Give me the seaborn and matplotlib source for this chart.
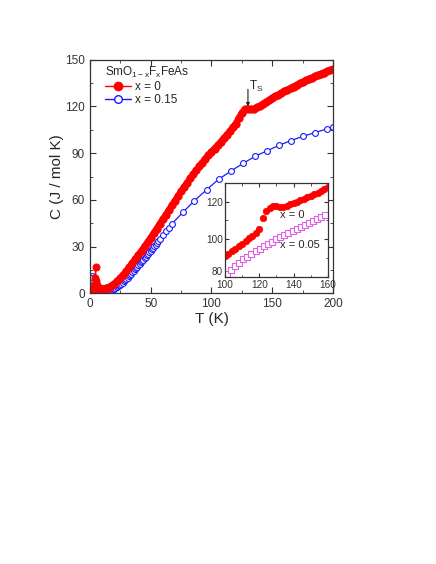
import numpy as np
import pandas as pd
import matplotlib
matplotlib.use("Agg")
import matplotlib.pyplot as plt
import seaborn as sns
from matplotlib.lines import Line2D

# ---------------- data ----------------
# x = 0, main panel
T_x0 = [1.5, 2, 2.5, 3, 3.5, 4, 4.5, 4.7, 5, 5.5, 6, 7, 8, 9, 10, 11, 12, 13, 14,
        15, 17.5, 20, 22.5, 25, 27.5, 30, 32.5, 35, 37.5, 40, 42.5, 45, 47.5, 50,
        52.5, 55, 57.5, 60, 62.5, 65, 67.5, 70, 72.5, 75, 77.5, 80, 82.5, 85, 87.5,
        90, 92.5, 95, 97.5, 100, 102.5, 105, 107.5, 110, 112.5, 115, 117.5, 120,
        122.5, 125, 127.5, 130, 132.5, 135, 137.5, 140, 142.5, 145, 147.5, 150,
        152.5, 155, 157.5, 160, 162.5, 165, 167.5, 170, 172.5, 175, 177.5, 180,
        182.5, 185, 187.5, 190, 192.5, 195, 197.5, 200]
C_x0 = [0.5, 1, 2, 3, 4, 6, 10, 17, 8, 5, 4.2, 3.6, 3.2, 2.9, 2.8, 2.8, 2.9, 3.1, 3.3,
        3.6, 4.8, 6.2, 7.8, 9.8, 12, 14.3, 16.8, 19.4, 22, 24.7, 27.4, 30.1, 32.9, 35.7,
        38.6, 41.6, 44.6, 47.6, 50.5, 53.5, 56.5, 59.5, 62.5, 65.5, 68.3, 71, 73.8, 76.5, 79,
        81.5, 84, 86.5, 88.8, 91, 93, 95, 97.2, 99.5, 101.8, 104, 106.5, 109,
        112.5, 116, 118.2, 118.5, 118.2, 118.5, 119.5, 120.6, 121.8, 123, 124.2, 125.4,
        126.5, 127.6, 128.7, 129.8, 130.8, 131.8, 132.8, 133.8, 134.8, 135.8, 136.7, 137.6,
        138.5, 139.4, 140.2, 141, 141.8, 142.6, 143.3, 144]

# x = 0.15, main panel
T_x15 = [1.5, 2, 2.5, 3, 3.5, 4, 5, 6, 7, 8, 9, 10, 11, 12, 13, 14, 15, 16, 17, 18, 19,
         20, 21, 22, 23, 24, 25, 26, 27, 28, 29, 30, 31, 32, 33, 34, 35, 36, 37, 38, 39,
         40, 41, 42, 43, 44, 45, 46, 47, 48, 49, 50, 51, 52, 53, 54, 55, 56,
         57.5, 60, 62.5, 64.8, 67.2, 76.5, 86, 96, 106, 116, 126, 136, 145.5,
         155.5, 165, 175, 185, 195, 200]
C_x15 = [11, 10, 7.5, 5.5, 4, 3, 2, 1.5, 1.2, 1.0, 0.9, 0.9, 0.95, 1.0, 1.15, 1.3, 1.5,
         1.7, 2.0, 2.3, 2.6, 3.0, 3.4, 3.9, 4.4, 5.0, 5.6, 6.2, 6.9, 7.6, 8.4, 9.2, 10.0,
         10.9, 11.7, 12.6, 13.5, 14.4, 15.3, 16.2, 17.1, 18.0, 18.9, 19.8, 20.7, 21.6,
         22.5, 23.5, 24.4, 25.4, 26.3, 27.3, 28.3, 29.3, 30.3, 31.3, 32.3, 33.3,
         34.8, 37.3, 39.8, 42.0, 44.4, 52.0, 59.5, 66.5, 73.3, 78.5, 83.5, 88.0, 91.5,
         95.0, 98.0, 100.8, 103.2, 105.6, 106.7]

# inset, x = 0
T_in0 = [100, 102, 104, 106, 108, 110, 112, 114, 116, 118, 120, 122, 124, 126, 128,
         130, 132, 134, 136, 138, 140, 142, 144, 146, 148, 150, 152, 154, 156, 158, 160]
C_in0 = [91, 92.3, 93.6, 94.8, 96.2, 97.6, 99, 100.5, 101.8, 103.3, 105.5, 111.5, 115,
         116.8, 117.5, 117.6, 117.3, 117.2, 117.8, 118.5, 119.2, 119.9, 120.6, 121.4,
         122.2, 123, 123.9, 124.8, 125.7, 126.7, 127.8]

# inset, x = 0.05
T_in05 = [101, 103.4, 105.8, 108.2, 110.6, 113, 115.4, 117.8, 120.2, 122.6, 125, 127.4,
          129.8, 132.2, 134.6, 137, 139.4, 141.8, 144.2, 146.6, 149, 151.4, 153.8,
          156.2, 158.6]
C_in05 = [81.5, 83.8, 85.8, 87.6, 89.3, 90.8, 92.3, 93.7, 95, 96.3, 97.5, 98.7, 99.9,
          101, 102.1, 103.2, 104.3, 105.4, 106.5, 107.6, 108.7, 109.8, 110.9, 112, 113.1]

main_xticks = [0, 50, 100, 150, 200]
main_yticks = [0, 30, 60, 90, 120, 150]
inset_xticks = [100, 120, 140, 160]
inset_yticks = [80, 100, 120]

# ---------------- style ----------------
sns.set_style("ticks")
plt.rcParams["font.family"] = ["Liberation Sans", "DejaVu Sans"]
plt.rcParams["mathtext.fontset"] = "custom"
plt.rcParams["mathtext.rm"] = "Liberation Sans"
plt.rcParams["mathtext.it"] = "Liberation Sans:italic"
plt.rcParams["axes.edgecolor"] = "#333333"
plt.rcParams["axes.linewidth"] = 0.9
plt.rcParams["xtick.color"] = "#333333"
plt.rcParams["ytick.color"] = "#333333"

RED = "#ff0000"
BLUE = "#1a1aff"
PINK = "#e060e8"

fig = plt.figure(figsize=(4.36, 5.64), dpi=100)
ax = fig.add_axes([0.206, 0.480, 0.558, 0.414])

df0 = pd.DataFrame({"T": T_x0, "C": C_x0})
df15 = pd.DataFrame({"T": T_x15, "C": C_x15})
low0 = df0[df0["T"] <= 10]
high0 = df0[df0["T"] >= 10]

sns.lineplot(data=df15, x="T", y="C", ax=ax, color=BLUE, lw=0.9, marker="o",
             markersize=4.2, markerfacecolor="white", markeredgecolor=BLUE,
             markeredgewidth=0.8, estimator=None, sort=False)
# dense red data: low-T part with thin connecting line, rest as a thick band
sns.lineplot(data=low0, x="T", y="C", ax=ax, color=RED, lw=1.0, marker="o",
             markersize=5.0, markerfacecolor=RED, markeredgecolor=RED,
             estimator=None, sort=False)
sns.lineplot(data=high0, x="T", y="C", ax=ax, color=RED, lw=4.6, marker="o",
             markersize=5.2, markerfacecolor=RED, markeredgecolor=RED,
             estimator=None, sort=False, solid_capstyle="round")

ax.set_xlim(0, 200)
ax.set_ylim(0, 150)
ax.set_xticks(main_xticks)
ax.set_yticks(main_yticks)
ax.set_xticks([25, 75, 125, 175], minor=True)
ax.set_yticks([15, 45, 75, 105, 135], minor=True)
ax.tick_params(which="both", direction="in", top=True, right=True, labelsize=8.5)
ax.tick_params(which="major", length=4)
ax.tick_params(which="minor", length=2.5)
ax.set_xlabel("T (K)", fontsize=11, labelpad=1)
ax.set_ylabel("C (J / mol K)", fontsize=11, labelpad=0.5)

# legend
handles = [
    Line2D([], [], color=RED, lw=1.0, marker="o", markersize=6,
           markerfacecolor=RED, markeredgecolor=RED),
    Line2D([], [], color=BLUE, lw=1.0, marker="o", markersize=5.5,
           markerfacecolor="white", markeredgecolor=BLUE),
]
leg = ax.legend(handles, ["x = 0", "x = 0.15"],
                title=r"SmO$_{\mathrm{1-x}}$F$_{\mathrm{x}}$FeAs",
                loc="upper left", bbox_to_anchor=(0.03, 1.015), frameon=False,
                fontsize=8.5, title_fontsize=8.5, handlelength=2.2, handletextpad=0.3,
                borderpad=0.2, labelspacing=0.1)
leg._legend_box.align = "left"

# T_s annotation
ax.annotate("", xy=(130, 120), xytext=(130, 131),
            arrowprops=dict(arrowstyle="-|>", color="#222222", lw=0.8,
                            mutation_scale=5, shrinkA=0, shrinkB=0))
ax.text(131.0, 128.0, r"T$_\mathrm{S}$", fontsize=8.5, ha="left", va="bottom")

# ---------------- inset ----------------
ins = fig.add_axes([0.516, 0.509, 0.236, 0.167])
di0 = pd.DataFrame({"T": T_in0, "C": C_in0})
di05 = pd.DataFrame({"T": T_in05, "C": C_in05})
sns.scatterplot(data=di0, x="T", y="C", ax=ins, color=RED, marker="o", s=22,
                edgecolor=RED, linewidth=0.5)
sns.scatterplot(data=di05, x="T", y="C", ax=ins, marker="s", s=22,
                facecolor="white", edgecolor=PINK, linewidth=0.8)
ins.set_xlim(100, 160)
ins.set_ylim(80, 130)
ins.set_xticks(inset_xticks)
ins.set_yticks(inset_yticks)
ins.set_xticks([110, 130, 150], minor=True)
ins.set_yticks([90, 110, 130], minor=True)
ins.tick_params(which="both", direction="in", top=True, right=True, labelsize=7.2)
ins.tick_params(axis="x", pad=2.0)
ins.tick_params(axis="y", pad=1.5)
ins.tick_params(which="major", length=3)
ins.tick_params(which="minor", length=1.8)
for lbl in ins.get_yticklabels():
    if lbl.get_text() == "80":
        lbl.set_va("bottom")
ins.set_xlabel("")
ins.set_ylabel("")
ins.text(132, 113, "x = 0", fontsize=8, ha="left", va="center")
ins.text(132, 97, "x = 0.05", fontsize=8, ha="left", va="center")

fig.savefig("out.png", dpi=100)
